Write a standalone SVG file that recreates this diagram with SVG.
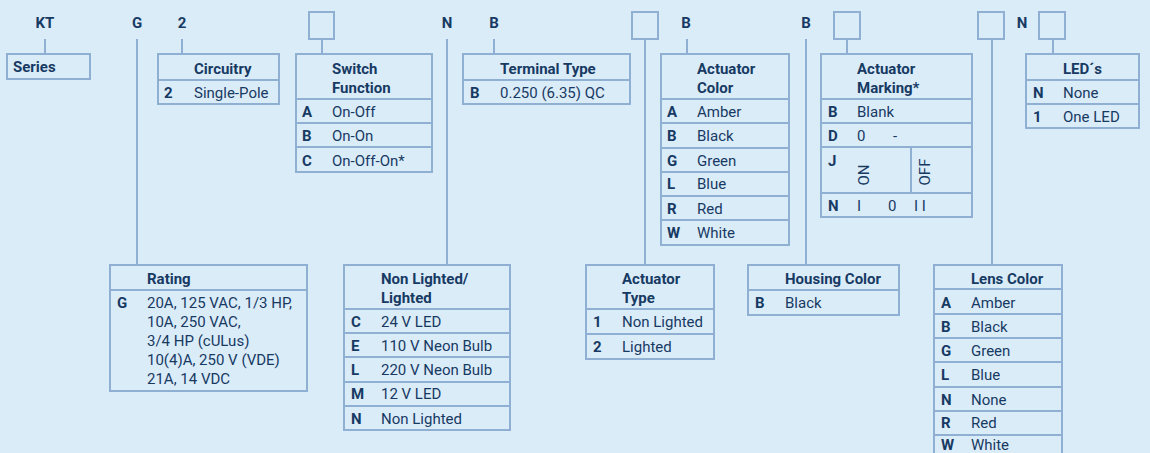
<svg xmlns="http://www.w3.org/2000/svg" width="1150" height="453" viewBox="0 0 1150 453">
<style>
.bg{fill:#dbecf9}
.bx{fill:none;stroke:#8fb0d3;stroke-width:2}
.ln{stroke:#8fb0d3;stroke-width:2;fill:none}
text{font-family:Roboto,"Liberation Sans",sans-serif;font-size:15px;fill:#173a63}
.b{font-weight:700}
.h{font-weight:700}
.t{text-anchor:middle;font-weight:700}
</style>
<rect class="bg" x="0" y="0" width="1150" height="453"/>
<g id="top-labels">
<text class="t" x="45" y="28">KT</text>
<text class="t" x="137" y="28">G</text>
<text class="t" x="182" y="28">2</text>
<text class="t" x="447" y="28">N</text>
<text class="t" x="494" y="28">B</text>
<text class="t" x="686" y="28">B</text>
<text class="t" x="806" y="28">B</text>
<text class="t" x="1022" y="28">N</text>
<rect class="bx" x="309" y="12" width="25" height="27"/>
<rect class="bx" x="632" y="12" width="26" height="27"/>
<rect class="bx" x="834" y="12" width="26" height="27"/>
<rect class="bx" x="978" y="12" width="26" height="27"/>
<rect class="bx" x="1039" y="12" width="26" height="27"/>
</g>
<g id="connectors">
<path class="ln" d="M45 39V54M137 39V265M182 39V54M322 39V54M447 39V265M494 39V54M645 39V265M687 39V54M806 39V265M847 39V54M992 39V265M1053 39V54"/>
</g>
<g id="series">
<rect class="bx" x="7" y="54" width="83" height="25"/>
<text class="h" x="13" y="72">Series</text>
</g>
<g id="circuitry">
<rect class="bx" x="158" y="54" width="121" height="50"/>
<path class="ln" d="M158 80H279"/>
<text class="h" x="194" y="74">Circuitry</text>
<text class="b" x="164" y="98">2</text><text x="194" y="98">Single-Pole</text>
</g>
<g id="switch-function">
<rect class="bx" x="296" y="54" width="136" height="118"/>
<path class="ln" d="M296 99H432M296 123H432M296 147H432"/>
<text class="h" x="332" y="74">Switch</text>
<text class="h" x="332" y="93">Function</text>
<text class="b" x="302" y="117">A</text><text x="332" y="117">On-Off</text>
<text class="b" x="302" y="141">B</text><text x="332" y="141">On-On</text>
<text class="b" x="302" y="166">C</text><text x="332" y="166">On-Off-On*</text>
</g>
<g id="terminal-type">
<rect class="bx" x="463" y="54" width="167" height="50"/>
<path class="ln" d="M463 80H630"/>
<text class="h" x="500" y="74">Terminal Type</text>
<text class="b" x="470" y="98">B</text><text x="500" y="98">0.250 (6.35) QC</text>
</g>
<g id="actuator-color">
<rect class="bx" x="661" y="54" width="128" height="191"/>
<path class="ln" d="M661 99H789M661 123H789M661 148H789M661 172H789M661 196H789M661 220H789"/>
<text class="h" x="697" y="74">Actuator</text>
<text class="h" x="697" y="93">Color</text>
<text class="b" x="667" y="117">A</text><text x="697" y="117">Amber</text>
<text class="b" x="667" y="141">B</text><text x="697" y="141">Black</text>
<text class="b" x="667" y="166">G</text><text x="697" y="166">Green</text>
<text class="b" x="667" y="189">L</text><text x="697" y="189">Blue</text>
<text class="b" x="667" y="214">R</text><text x="697" y="214">Red</text>
<text class="b" x="667" y="238">W</text><text x="697" y="238">White</text>
</g>
<g id="actuator-marking">
<rect class="bx" x="821" y="54" width="151" height="163"/>
<path class="ln" d="M821 99H972M821 123H972M821 147H972M821 193H972M911 147V193"/>
<text class="h" x="857" y="74">Actuator</text>
<text class="h" x="857" y="93">Marking*</text>
<text class="b" x="828" y="117">B</text><text x="857" y="117">Blank</text>
<text class="b" x="828" y="141">D</text><text x="857" y="141">0</text><text x="893" y="141">-</text>
<text class="b" x="828" y="166">J</text>
<text transform="translate(869,175) rotate(-90)" text-anchor="middle">ON</text>
<text transform="translate(930,172) rotate(-90)" text-anchor="middle">OFF</text>
<text class="b" x="828" y="211">N</text><text x="857" y="211">I</text><text x="888" y="211">0</text><text x="914" y="211">I I</text>
</g>
<g id="leds">
<rect class="bx" x="1026" y="54" width="113" height="74"/>
<path class="ln" d="M1026 80H1139M1026 104H1139"/>
<text class="h" x="1063" y="74">LED´s</text>
<text class="b" x="1033" y="98">N</text><text x="1063" y="98">None</text>
<text class="b" x="1033" y="122">1</text><text x="1063" y="122">One LED</text>
</g>
<g id="rating">
<rect class="bx" x="110" y="265" width="197" height="126"/>
<path class="ln" d="M110 290H307"/>
<text class="h" x="147" y="284">Rating</text>
<text class="b" x="117" y="308">G</text>
<text x="147" y="308">20A, 125 VAC, 1/3 HP,</text>
<text x="147" y="327">10A, 250 VAC,</text>
<text x="147" y="346">3/4 HP (cULus)</text>
<text x="147" y="365">10(4)A, 250 V (VDE)</text>
<text x="147" y="384">21A, 14 VDC</text>
</g>
<g id="non-lighted">
<rect class="bx" x="344" y="265" width="166" height="165"/>
<path class="ln" d="M344 309H510M344 333H510M344 357H510M344 382H510M344 406H510"/>
<text class="h" x="381" y="284">Non Lighted/</text>
<text class="h" x="381" y="303">Lighted</text>
<text class="b" x="351" y="327">C</text><text x="381" y="327">24 V LED</text>
<text class="b" x="351" y="351">E</text><text x="381" y="351">110 V Neon Bulb</text>
<text class="b" x="351" y="375">L</text><text x="381" y="375">220 V Neon Bulb</text>
<text class="b" x="351" y="399">M</text><text x="381" y="399">12 V LED</text>
<text class="b" x="351" y="424">N</text><text x="381" y="424">Non Lighted</text>
</g>
<g id="actuator-type">
<rect class="bx" x="586" y="265" width="128" height="94"/>
<path class="ln" d="M586 309H714M586 334H714"/>
<text class="h" x="622" y="284">Actuator</text>
<text class="h" x="622" y="303">Type</text>
<text class="b" x="593" y="327">1</text><text x="622" y="327">Non Lighted</text>
<text class="b" x="593" y="352">2</text><text x="622" y="352">Lighted</text>
</g>
<g id="housing-color">
<rect class="bx" x="748" y="265" width="151" height="50"/>
<path class="ln" d="M748 290H899"/>
<text class="h" x="785" y="284">Housing Color</text>
<text class="b" x="755" y="308">B</text><text x="785" y="308">Black</text>
</g>
<g id="lens-color">
<rect class="bx" x="934" y="265" width="128" height="195"/>
<path class="ln" d="M934 289H1062M934 314H1062M934 338H1062M934 362H1062M934 387H1062M934 411H1062M934 435H1062"/>
<text class="h" x="971" y="284">Lens Color</text>
<text class="b" x="941" y="308">A</text><text x="971" y="308">Amber</text>
<text class="b" x="941" y="332">B</text><text x="971" y="332">Black</text>
<text class="b" x="941" y="356">G</text><text x="971" y="356">Green</text>
<text class="b" x="941" y="380">L</text><text x="971" y="380">Blue</text>
<text class="b" x="941" y="405">N</text><text x="971" y="405">None</text>
<text class="b" x="941" y="428">R</text><text x="971" y="428">Red</text>
<text class="b" x="941" y="450">W</text><text x="971" y="450">White</text>
</g>
</svg>
